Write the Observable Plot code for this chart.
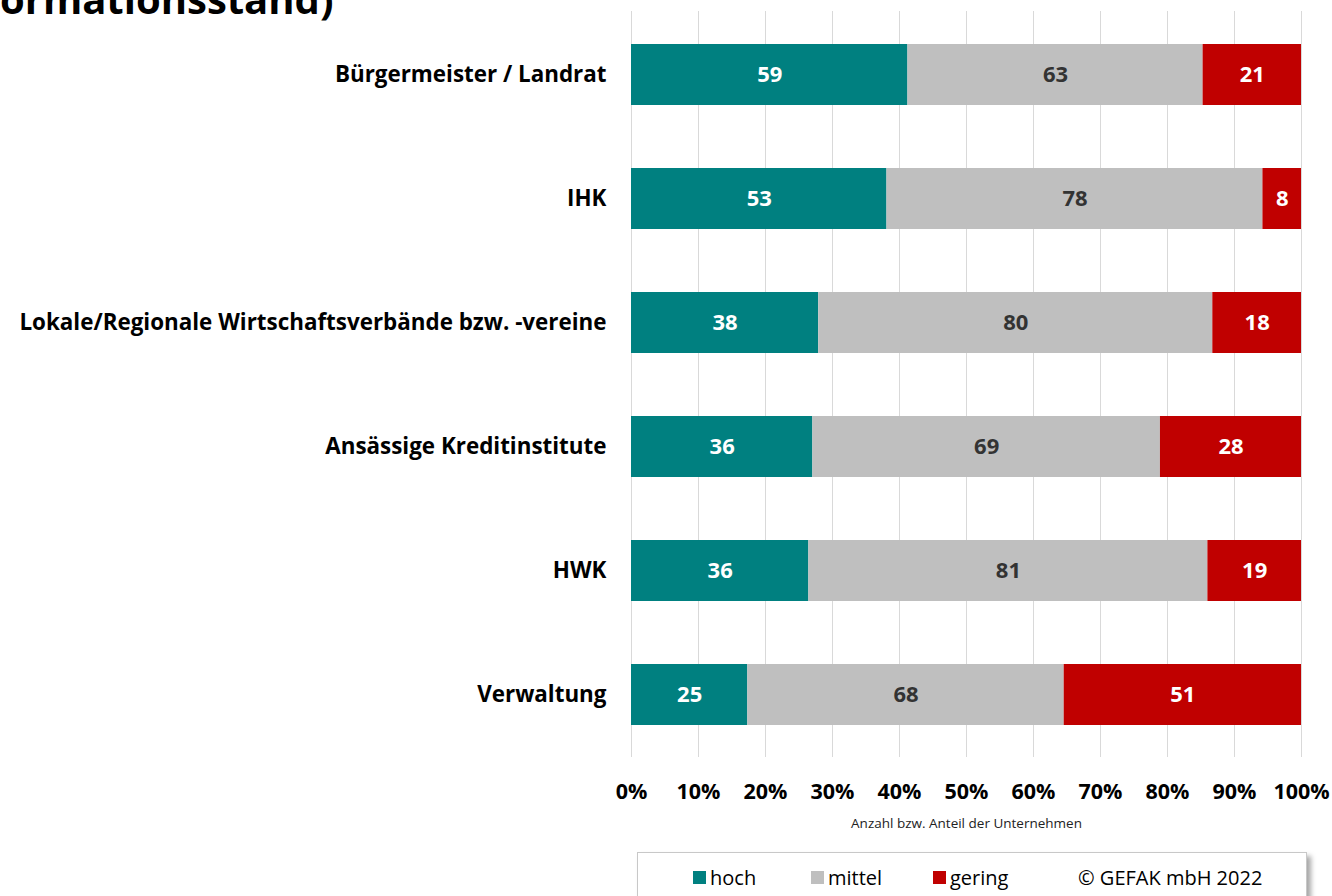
<!DOCTYPE html>
<html>
<head>
<meta charset="utf-8">
<script src="https://cdn.jsdelivr.net/npm/d3@7"></script>
<script src="https://cdn.jsdelivr.net/npm/@observablehq/plot@0.6"></script>
<style>
  html, body { margin: 0; padding: 0; background: #fff; }
  #wrap { position: relative; width: 1332px; height: 896px; overflow: hidden; font-family: "Open Sans", Lato, sans-serif; font-variant-ligatures: none; }
  #title { position: absolute; left: 0; top: -29px; font-size: 40px; font-weight: 700; color: #000; white-space: nowrap; }
  #chart { position: absolute; left: 0; top: 0; }
  #chart svg text { font-variant-ligatures: none; }
  #legend { position: absolute; left: 637px; top: 852px; width: 668px; height: 60px; border: 1px solid #c8c8c8; background: #fff;
            box-shadow: 4px 4px 5px rgba(0,0,0,0.35); }
  .item { position: absolute; top: 11px; font-size: 20px; color: #000; white-space: nowrap; display: flex; align-items: center; }
  .sw { display: inline-block; width: 13px; height: 13px; margin-right: 4px; }
</style>
</head>
<body>
<div id="wrap">
  <div id="title">ormationsstand)</div>
  <div id="chart"></div>
  <div id="legend"></div>
</div>
<script>
const categories = [
  "Bürgermeister / Landrat",
  "IHK",
  "Lokale/Regionale Wirtschaftsverbände bzw. -vereine",
  "Ansässige Kreditinstitute",
  "HWK",
  "Verwaltung"
];
const seriesNames = ["hoch", "mittel", "gering"];
const seriesColors = ["#008080", "#BFBFBF", "#C00000"];
const labelColors = ["#ffffff", "#333333", "#ffffff"];
const hoch = [59, 53, 38, 36, 36, 25];
const mittel = [63, 78, 80, 69, 81, 68];
const gering = [21, 8, 18, 28, 19, 51];
const xTicks = [0, 0.1, 0.2, 0.3, 0.4, 0.5, 0.6, 0.7, 0.8, 0.9, 1];
const xAxisLabel = "Anzahl bzw. Anteil der Unternehmen";
const copyright = "© GEFAK mbH 2022";

const valuesBySeries = [hoch, mittel, gering];
const data = [];
categories.forEach((c, i) => {
  seriesNames.forEach((s, j) => {
    data.push({cat: c, series: s, value: valuesBySeries[j][i]});
  });
});

const stackOpts = {x: "value", y: "cat", z: "series", offset: "normalize", order: seriesNames};
const FONT = "'Open Sans', Lato, sans-serif";

const plot = Plot.plot({
  width: 1332,
  height: 840,
  marginLeft: 631,
  marginRight: 31,
  marginTop: 11,
  marginBottom: 83,
  style: {fontFamily: FONT, background: "transparent"},
  x: {domain: [0, 1]},
  y: {domain: categories, paddingInner: 0.51, paddingOuter: 0.25},
  color: {domain: seriesNames, range: seriesColors},
  marks: [
    Plot.gridX(xTicks, {stroke: "#d9d9d9", strokeOpacity: 1, strokeWidth: 1}),
    Plot.barX(data, Plot.stackX({...stackOpts, fill: "series", inset: 0})),
    ...seriesNames.map((s, j) =>
      Plot.text(data, Plot.stackX({
        ...stackOpts,
        text: d => d.series === s ? String(d.value) : null,
        fill: labelColors[j],
        fontSize: 22,
        fontWeight: 700
      }))
    ),
    Plot.axisX({ticks: xTicks, tickFormat: d3.format(".0%"), tickSize: 0, tickPadding: 26, fontSize: 21.5, fontWeight: 700, fill: "#000", label: null}),
    Plot.axisY({tickSize: 0, tickPadding: 25, fontSize: 22.4, fontWeight: 700, fill: "#000", label: null}),
    Plot.text([xAxisLabel], {frameAnchor: "bottom", dy: 70, fontSize: 13.5, fill: "#222"})
  ]
});
document.getElementById("chart").appendChild(plot);

// legend built from series arrays
const legend = document.getElementById("legend");
const legendX = [55, 173, 295];
seriesNames.forEach((s, j) => {
  const it = document.createElement("div");
  it.className = "item";
  it.style.left = legendX[j] + "px";
  const sw = document.createElement("span");
  sw.className = "sw";
  sw.style.background = seriesColors[j];
  it.appendChild(sw);
  it.appendChild(document.createTextNode(s));
  legend.appendChild(it);
});
const cp = document.createElement("div");
cp.className = "item";
cp.style.left = "440px";
cp.textContent = copyright;
legend.appendChild(cp);
</script>
</body>
</html>
